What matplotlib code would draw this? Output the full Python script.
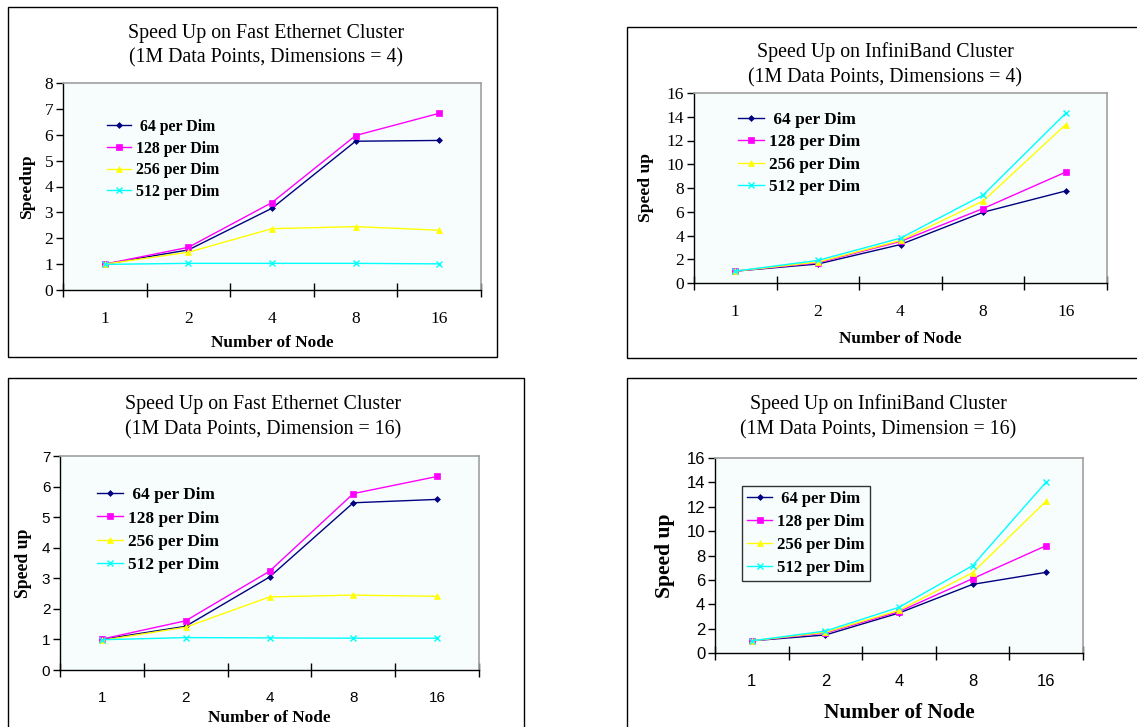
import matplotlib
matplotlib.use("Agg")
import matplotlib.pyplot as plt
from matplotlib.patches import Rectangle

# ---------------- data ----------------
nodes = ["1", "2", "4", "8", "16"]
series_labels = [" 64 per Dim", "128 per Dim", "256 per Dim", "512 per Dim"]

fe4_64 = [1.0, 1.55, 3.16, 5.75, 5.78]
fe4_128 = [1.0, 1.65, 3.38, 5.97, 6.83]
fe4_256 = [1.0, 1.46, 2.37, 2.45, 2.31]
fe4_512 = [0.99, 1.03, 1.03, 1.03, 1.01]

ib4_64 = [1.0, 1.60, 3.24, 5.96, 7.75]
ib4_128 = [1.0, 1.70, 3.50, 6.27, 9.34]
ib4_256 = [1.0, 1.76, 3.58, 6.90, 13.34]
ib4_512 = [1.0, 1.90, 3.78, 7.41, 14.29]

fe16_64 = [1.0, 1.43, 3.04, 5.47, 5.58]
fe16_128 = [1.01, 1.61, 3.23, 5.77, 6.33]
fe16_256 = [0.97, 1.40, 2.39, 2.45, 2.41]
fe16_512 = [0.99, 1.06, 1.05, 1.04, 1.04]

ib16_64 = [1.0, 1.48, 3.28, 5.63, 6.62]
ib16_128 = [1.0, 1.64, 3.39, 6.10, 8.81]
ib16_256 = [1.0, 1.70, 3.50, 6.59, 12.47]
ib16_512 = [1.0, 1.80, 3.75, 7.17, 14.03]

colors = ["#000080", "#FF00FF", "#FFFF00", "#00FFFF"]
markers = ["D", "s", "^", "x"]
msizes = [3, 4, 4, 5]

W, H = 1137, 727
fig = plt.figure(figsize=(W / 100, H / 100), dpi=100)
fig.patch.set_facecolor("white")

SERIF = ["Liberation Serif", "DejaVu Serif"]
SANS = ["Liberation Sans", "DejaVu Sans"]


def fx(px):
    return px / W


def fy(py):
    return 1 - py / H


def frame(x0, y0, x1, y1):
    r = Rectangle((fx(x0), fy(y1)), fx(x1) - fx(x0), fy(y0) - fy(y1),
                  transform=fig.transFigure, fill=False, edgecolor="black",
                  linewidth=1.0, zorder=0)
    fig.add_artist(r)


panels = [
    dict(box=(63, 83, 481, 290), frame=(8, 7, 497, 357),
         title=("Speed Up on Fast Ethernet Cluster", "(1M Data Points, Dimensions = 4)"),
         tx=266, ty=(38, 62), data=[fe4_64, fe4_128, fe4_256, fe4_512],
         ymax=8, ystep=1, tickfont=SERIF, tick_size=12.5, xpad=15,
         ylabel="Speedup", ylabsize=12.6, ylabpad=7, xlabsize=12.4, xlabpad=6,
         leg=(107, 119), legframe=False, legsize=11.4, legspace=0.355),
    dict(box=(694, 93, 1107, 283), frame=(627, 27, 1145, 358),
         title=("Speed Up on InfiniBand Cluster", "(1M Data Points, Dimensions = 4)"),
         tx=885, ty=(57, 82), data=[ib4_64, ib4_128, ib4_256, ib4_512],
         ymax=16, ystep=2, tickfont=SERIF, tick_size=12.5, xpad=15,
         ylabel="Speed up", ylabsize=12.6, ylabpad=9, xlabsize=12.4, xlabpad=8,
         leg=(738, 112), legframe=False, legsize=12.4, legspace=0.37),
    dict(box=(60, 456, 479, 670), frame=(8, 378, 524, 740),
         title=("Speed Up on Fast Ethernet Cluster", "(1M Data Points, Dimension = 16)"),
         tx=263, ty=(409, 434), data=[fe16_64, fe16_128, fe16_256, fe16_512],
         ymax=7, ystep=1, tickfont=SANS, tick_size=11, xpad=15,
         ylabel="Speed up", ylabsize=12.7, ylabpad=7, xlabsize=12.4, xlabpad=4,
         leg=(97, 487), legframe=False, legsize=12.4, legspace=0.43),
    dict(box=(715, 458, 1083, 653), frame=(627, 378, 1145, 740),
         title=("Speed Up on InfiniBand Cluster", "(1M Data Points, Dimension = 16)"),
         tx=878, ty=(409, 434), data=[ib16_64, ib16_128, ib16_256, ib16_512],
         ymax=16, ystep=2, tickfont=SANS, tick_size=12, xpad=15,
         ylabel="Speed up", ylabsize=15.6, ylabpad=8.7, xlabsize=15.3, xlabpad=10,
         leg=(742, 486), legframe=True, legsize=12, legspace=0.41),
]

for p in panels:
    x0, y0, x1, y1 = p["box"]
    frame(*p["frame"])
    ax = fig.add_axes([fx(x0), fy(y1), fx(x1) - fx(x0), fy(y0) - fy(y1)])
    ax.set_facecolor("#F7FDFD")
    xs = list(range(len(nodes)))
    handles = []
    for vals, c, m, ms, lab in zip(p["data"], colors, markers, msizes, series_labels):
        h, = ax.plot(xs, vals, color=c, marker=m, markersize=ms, linewidth=1.0,
                     markeredgewidth=1.0 if m == "x" else 0.5, label=lab)
        handles.append(h)
    ax.set_xlim(-0.5, len(nodes) - 0.5)
    ax.set_ylim(0, p["ymax"])
    ax.set_xticks([i - 0.5 for i in range(len(nodes) + 1)])
    ax.set_xticklabels([])
    ax.set_xticks(xs, minor=True)
    ax.set_xticklabels(nodes, minor=True, fontfamily=p["tickfont"], fontsize=p["tick_size"])
    ax.tick_params(axis="x", which="major", direction="inout", length=10, width=1)
    ax.tick_params(axis="x", which="minor", length=0, pad=p["xpad"])
    ax.set_yticks(list(range(0, p["ymax"] + 1, p["ystep"])))
    ax.set_yticklabels([str(v) for v in range(0, p["ymax"] + 1, p["ystep"])],
                       fontfamily=p["tickfont"], fontsize=p["tick_size"])
    ax.tick_params(axis="y", direction="out", length=5, width=1, pad=2)
    for s in ("top", "right"):
        ax.spines[s].set_color("#A0A0A0")
        ax.spines[s].set_linewidth(1.2)
    for s in ("left", "bottom"):
        ax.spines[s].set_color("black")
        ax.spines[s].set_linewidth(1.0)
    ax.set_xlabel("Number of Node", fontfamily=SERIF, fontweight="bold",
                  fontsize=p["xlabsize"], labelpad=p["xlabpad"])
    ax.set_ylabel(p["ylabel"], fontfamily=SERIF, fontweight="bold",
                  fontsize=p["ylabsize"], labelpad=p["ylabpad"])
    lx, ly = p["leg"]
    leg = ax.legend(handles=handles, loc="upper left",
                    bbox_to_anchor=(fx(lx), fy(ly)), bbox_transform=fig.transFigure,
                    frameon=p["legframe"], fancybox=False, borderaxespad=0,
                    handlelength=1.5, handletextpad=0.3, labelspacing=p["legspace"],
                    borderpad=0.3 if p["legframe"] else 0.0,
                    prop=dict(family=SERIF, weight="bold", size=p["legsize"]))
    if p["legframe"]:
        leg.get_frame().set_edgecolor("black")
        leg.get_frame().set_linewidth(1.0)
        leg.get_frame().set_facecolor("#F7FDFD")
    fig.text(fx(p["tx"]), fy(p["ty"][0]), p["title"][0], ha="center", va="baseline",
             fontfamily=SERIF, fontsize=14.3)
    fig.text(fx(p["tx"]), fy(p["ty"][1]), p["title"][1], ha="center", va="baseline",
             fontfamily=SERIF, fontsize=14.3)

fig.savefig("out.png", dpi=100, facecolor="white")
